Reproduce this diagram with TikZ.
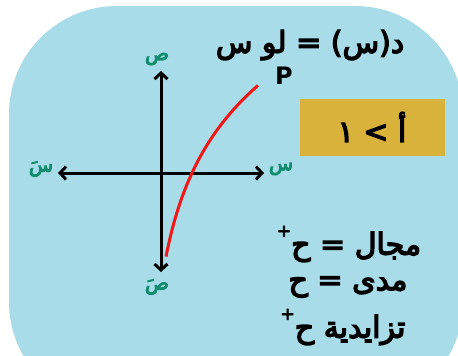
\documentclass[tikz,border=0pt]{standalone}
\usepackage{fontspec}
\usepackage{tikz}
\usetikzlibrary{arrows.meta}
\TeXXeTstate=1
\setmainfont{DejaVu Sans}
\newfontfamily\arabicfont[Script=Arabic, FakeBold=4.5]{DejaVu Sans}

\definecolor{cardblue}{RGB}{168,220,233}
\definecolor{boxgold}{RGB}{216,178,58}
\definecolor{labelgreen}{RGB}{18,140,110}
\definecolor{curvered}{RGB}{240,24,24}

\begin{document}
\begin{tikzpicture}[x=1pt, y=-1pt,
    axis/.style={line width=3pt, {Straight Barb[length=6pt,width=13pt]}-{Straight Barb[length=6pt,width=13pt]}},
    axislabel/.style={text=labelgreen, font=\arabicfont\fontsize{20}{20}\selectfont},
    bigtext/.style={font=\arabicfont\fontsize{30}{30}\selectfont}]

    % Card
    \useasboundingbox (0,0) rectangle (458,356);
    \clip (0,0) rectangle (458,356);
    \fill[cardblue, rounded corners=108pt] (9,6) rectangle (463,410);

    % Axes
    \coordinate (xl) at (58,173);
    \coordinate (xr) at (264,173);
    \coordinate (yt) at (161,71);
    \coordinate (yb) at (161,272);
    \draw[axis] (xl) -- (xr);
    \draw[axis] (yb) -- (yt);

    % Axis labels
    \node[axislabel] (xpos) at (281,169) {\beginR س\endR};
    \node[axislabel] (xneg) at (41,169) {\beginR سَ\endR};
    \node[axislabel] (ypos) at (157,59) {\beginR ص\endR};
    \node[axislabel] (yneg) at (157,287) {\beginR صَ\endR};

    % Log curve, base > 1
    \draw[curvered, line width=3pt] plot[domain=166:258, samples=50, smooth]
        (\x, {173-97*ln((\x-147)/45)});

    % Rule
    \node[bigtext] (rule) at (310,45) {\beginR د(س) = لو س\endR};
    \node[font=\bfseries\fontsize{24}{24}\selectfont] (base) at (284,76) {P};

    % Condition
    \node[bigtext, fill=boxgold, minimum width=145pt, minimum height=57pt,
          inner sep=0pt] (cond) at (372,127) {\beginR أ > ١\endR};

    % Domain, range, monotony
    \node[bigtext] (domain) at (349,244) {\beginR مجال = ح\raisebox{1.1ex}{\fontsize{17}{17}\selectfont +}\endR};
    \node[bigtext] (range) at (348,287) {\beginR مدى = ح\endR};
    \node[bigtext] (mono) at (343,327) {\beginR تزايدية ح\raisebox{1.1ex}{\fontsize{17}{17}\selectfont +}\endR};

\end{tikzpicture}
\end{document}
